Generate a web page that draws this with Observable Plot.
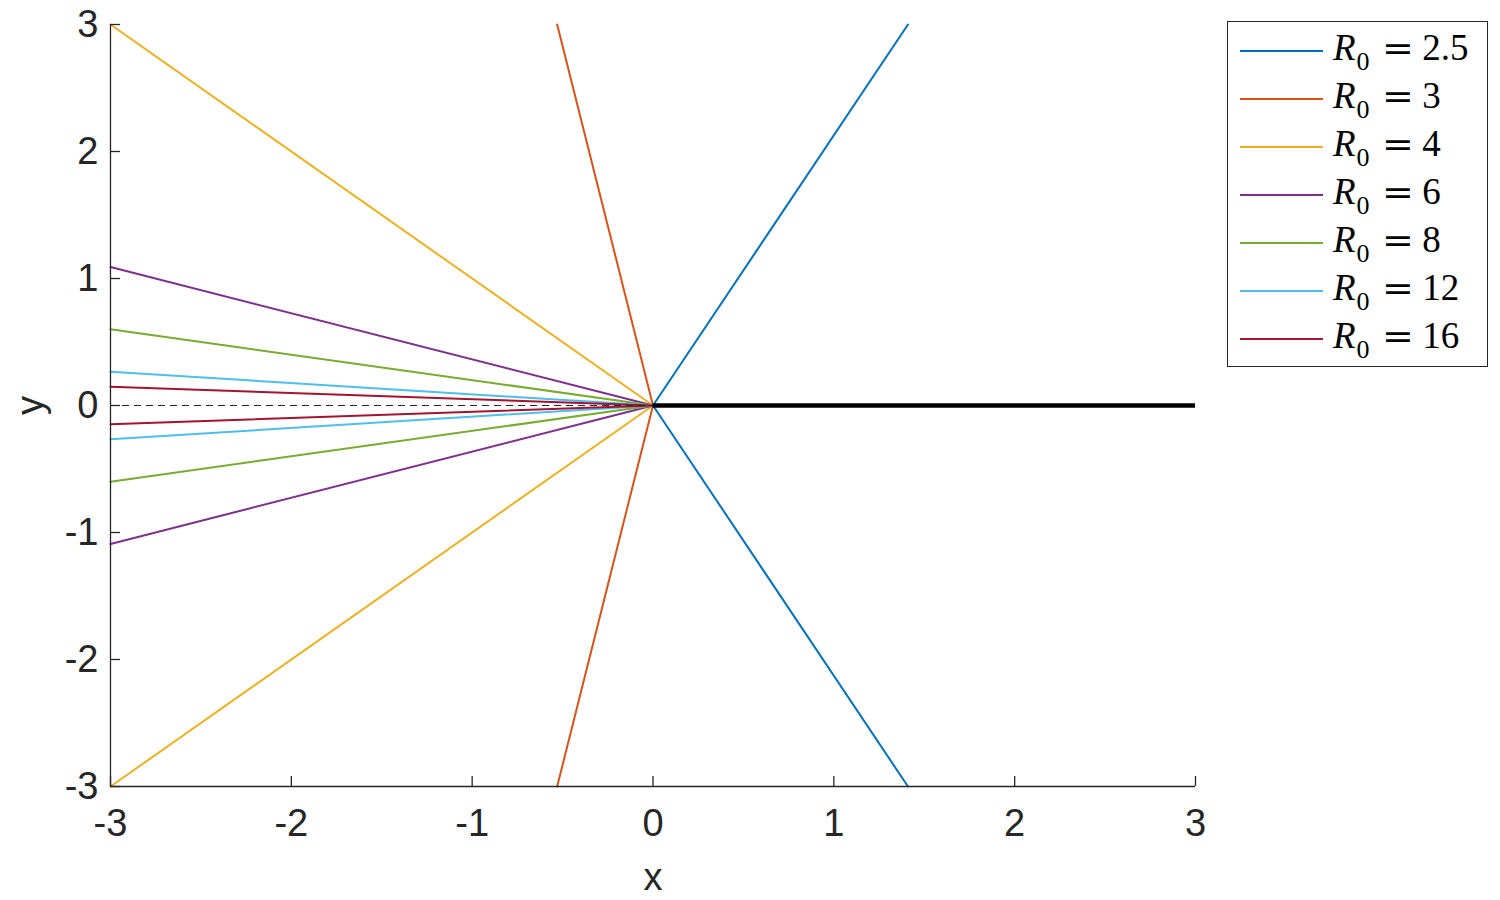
<!DOCTYPE html>
<html>
<head>
<meta charset="utf-8">
<script src="https://cdn.jsdelivr.net/npm/d3@7"></script>
<script src="https://cdn.jsdelivr.net/npm/@observablehq/plot@0.6"></script>
<style>
  html, body { margin: 0; padding: 0; background: white; }
  #wrap { position: relative; width: 1500px; height: 900px; }
  #legend {
    position: absolute; left: 1227px; top: 21px; width: 259px; height: 344px;
    border: 1.3px solid #262626; background: white; box-sizing: content-box;
  }
  .entry { position: absolute; left: 0; height: 48px; width: 259px; }
  .entry .swatch { position: absolute; left: 12px; top: 23px; width: 83px; height: 2.2px; }
  .entry .lbl {
    position: absolute; left: 105px; top: 3px; font-family: "Liberation Serif", serif;
    font-size: 37px; color: #000; white-space: nowrap; line-height: 36px;
  }
  .lbl i { font-style: italic; }
  .lbl sub { font-size: 26px; vertical-align: -10px; line-height: 0; margin-left: 1px; }
  .lbl .eq { display: inline-block; font-family: "DejaVu Serif", serif; font-size: 33px;
             margin: 0 11px 0 14px; transform: scaleX(1.15); }
</style>
</head>
<body>
<div id="wrap"></div>
<script>
// Series: R0 values, colors, and the edge points each pair of rays reaches
const R0 = ["2.5", "3", "4", "6", "8", "12", "16"];
const colors = ["#0072BD", "#D95319", "#EDB120", "#7E2F8E", "#77AC30", "#4DBEEE", "#A2142F"];
const endX = [1.41, -0.53, -3, -3, -3, -3, -3];
const endY = [3, 3, 3, 1.09, 0.60, 0.265, 0.148];
const xTicks = [-3, -2, -1, 0, 1, 2, 3];
const yTicks = [-3, -2, -1, 0, 1, 2, 3];

const lineData = [];
R0.forEach((r, i) => {
  lineData.push({series: r, x: endX[i], y: endY[i]});
  lineData.push({series: r, x: 0, y: 0});
  lineData.push({series: r, x: endX[i], y: -endY[i]});
});

const fmt = d => String(d);
const axisColor = "#262626";

const chart = Plot.plot({
  width: 1500,
  height: 900,
  marginLeft: 110,
  marginRight: 305,
  marginTop: 24,
  marginBottom: 114,
  x: {domain: [-3, 3], label: null},
  y: {domain: [-3, 3], label: null},
  color: {domain: R0, range: colors},
  style: {fontFamily: "Liberation Sans, Arial, sans-serif", color: axisColor, background: "white"},
  marks: [
    Plot.line(lineData, {x: "x", y: "y", z: "series", stroke: "series", strokeWidth: 2}),
    Plot.ruleY([0], {x1: -3, x2: 0, stroke: axisColor, strokeWidth: 1.2, strokeDasharray: "7,5"}),
    Plot.ruleY([0], {x1: 0, x2: 3, stroke: "black", strokeWidth: 4.5}),
    Plot.ruleY([-3], {stroke: axisColor, strokeWidth: 1.3}),
    Plot.ruleX([-3], {stroke: axisColor, strokeWidth: 1.3}),
    Plot.axisX(xTicks, {tickSize: -10, tickFormat: () => "", stroke: axisColor, strokeWidth: 1.3, label: null}),
    Plot.axisY(yTicks, {tickSize: -10, tickFormat: () => "", stroke: axisColor, strokeWidth: 1.3, label: null}),
    Plot.axisX(xTicks, {tickSize: 0, tickPadding: 23, tickFormat: fmt, fontSize: 38, fill: axisColor, label: null}),
    Plot.axisY(yTicks, {tickSize: 0, tickPadding: 12, tickFormat: fmt, fontSize: 38, fill: axisColor, label: null}),
    Plot.text(["x"], {x: 0, y: -3, dy: 91, text: d => d, fontSize: 38, fill: axisColor}),
    Plot.text(["y"], {x: -3, y: 0, dx: -80, rotate: -90, text: d => d, fontSize: 38, fill: axisColor})
  ]
});

const wrap = document.getElementById("wrap");
wrap.appendChild(chart);

const legend = document.createElement("div");
legend.id = "legend";
R0.forEach((r, i) => {
  const e = document.createElement("div");
  e.className = "entry";
  e.style.top = (5 + i * 48) + "px";
  const sw = document.createElement("div");
  sw.className = "swatch";
  sw.style.background = colors[i];
  const lbl = document.createElement("div");
  lbl.className = "lbl";
  lbl.innerHTML = `<i>R</i><sub>0</sub><span class="eq">=</span>${r}`;
  e.appendChild(sw);
  e.appendChild(lbl);
  legend.appendChild(e);
});
wrap.appendChild(legend);
</script>
</body>
</html>
